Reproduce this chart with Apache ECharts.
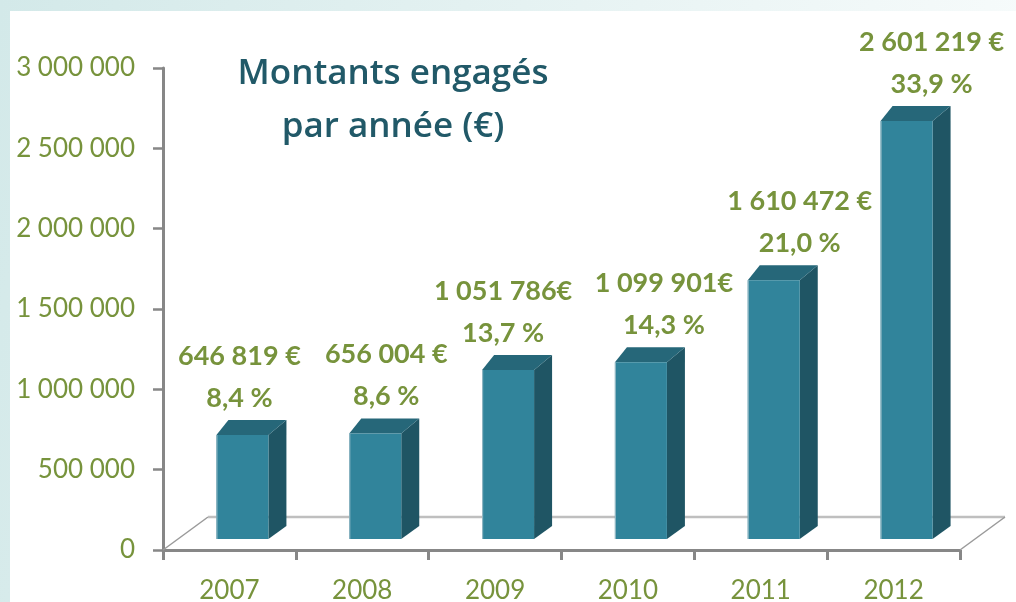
<!DOCTYPE html>
<html>
<head>
<meta charset="utf-8">
<script src="https://cdn.jsdelivr.net/npm/echarts@6/dist/echarts.min.js"></script>
<style>html,body{margin:0;padding:0;background:#fff;}#chart{width:1016px;height:602px;}</style>
</head>
<body>
<div id="chart"></div>
<script>
// ---- data ----
const years = ['2007', '2008', '2009', '2010', '2011', '2012'];
const amounts = [646819, 656004, 1051786, 1099901, 1610472, 2601219];
const amountLabels = ['646 819 €', '656 004 €', '1 051 786€', '1 099 901€', '1 610 472 €', '2 601 219 €'];
const shareLabels = ['8,4 %', '8,6 %', '13,7 %', '14,3 %', '21,0 %', '33,9 %'];
const yTickValues = [0, 500000, 1000000, 1500000, 2000000, 2500000, 3000000];

// ---- style ----
const GREEN = '#77933C';
const TITLE = '#215968';
const FRONT = '#31849B';
const SIDE = '#1F5564';
const TOP = '#266779';
const AXIS = '#878787';
const FRONT_DX = 13, FRONT_DY = -11, BAR_W = 52;
const SIDE_DX = 18, TOP_LDX = 12, TOP_DY = -15, BOT_DY = -13;
const FLOOR_DX = 45, FLOOR_DY = -33;
const LABEL_NUDGE = [-3, 11, -5, 23, 26, 25];

function fmtSpace(v) {
  return String(v).replace(/\B(?=(\d{3})+(?!\d))/g, ' ');
}

const chart = echarts.init(document.getElementById('chart'), null, {renderer: 'canvas'});

function renderItem(params, api) {
  const i = api.value(0);
  const v = api.value(1);
  const p0 = api.coord([i, 0]);
  const p1 = api.coord([i, v]);
  const cx = p0[0] + FRONT_DX;
  const L = cx - BAR_W / 2, R = cx + BAR_W / 2;
  const B = p0[1] + FRONT_DY, T = p1[1] + FRONT_DY;
  const children = [];
  if (params.dataIndex === 0) {
    const cs = params.coordSys;
    const x0 = cs.x, x1 = cs.x + cs.width, yb = cs.y + cs.height;
    children.push({type: 'polyline', shape: {points: [[x0, yb], [x0 + FLOOR_DX, yb + FLOOR_DY]]}, style: {stroke: '#9A9A9A', lineWidth: 1.5, fill: null}, z2: 0});
    children.push({type: 'polyline', shape: {points: [[x0 + FLOOR_DX, yb + FLOOR_DY], [x1 + FLOOR_DX, yb + FLOOR_DY]]}, style: {stroke: '#BFBFBF', lineWidth: 2.5, fill: null}, z2: 0});
    children.push({type: 'polyline', shape: {points: [[x1, yb], [x1 + FLOOR_DX, yb + FLOOR_DY]]}, style: {stroke: '#9A9A9A', lineWidth: 1.5, fill: null}, z2: 0});
  }
  children.push({type: 'polygon', shape: {points: [[R, T], [R + SIDE_DX, T + TOP_DY], [R + SIDE_DX, B + BOT_DY], [R, B]]}, style: {fill: SIDE}, z2: 5});
  children.push({type: 'polygon', shape: {points: [[L, T], [R, T], [R + SIDE_DX, T + TOP_DY], [L + TOP_LDX, T + TOP_DY]]}, style: {fill: TOP}, z2: 5});
  children.push({type: 'rect', shape: {x: L, y: T, width: BAR_W, height: B - T}, style: {fill: FRONT}, z2: 6});
  children.push({type: 'line', shape: {x1: L + 0.5, y1: T, x2: L + 0.5, y2: B}, style: {stroke: '#8DB5C2', lineWidth: 1.2}, z2: 7});
  const lx = cx + LABEL_NUDGE[i];
  children.push({type: 'text', x: lx, y: T - 79, style: {text: amountLabels[i], fill: GREEN, font: 'bold 27px Lato', align: 'center', verticalAlign: 'middle'}, z2: 10});
  children.push({type: 'text', x: lx, y: T - 37, style: {text: shareLabels[i], fill: GREEN, font: 'bold 27px Lato', align: 'center', verticalAlign: 'middle'}, z2: 10});
  return {type: 'group', children: children};
}

const option = {
  animation: false,
  backgroundColor: '#ffffff',
  graphic: [
    {type: 'rect', z: -2, shape: {x: 0, y: 0, width: 1016, height: 602},
      style: {fill: {type: 'linear', x: 0, y: 0, x2: 1, y2: 0.3, colorStops: [{offset: 0, color: '#D3E9E9'}, {offset: 1, color: '#F7FBFB'}]}}},
    {type: 'rect', z: -1, shape: {x: 10, y: 11, width: 1006, height: 591}, style: {fill: '#ffffff'}}
  ],
  title: {
    text: 'Montants engagés\npar année (€)',
    left: 388, top: 43, textAlign: 'center',
    textStyle: {fontFamily: 'Open Sans', fontSize: 35, fontWeight: 600, color: TITLE, lineHeight: 53}
  },
  grid: {left: 163, right: 56, top: 68, bottom: 52, containLabel: false, outerBoundsMode: 'none'},
  xAxis: {
    type: 'category', data: years,
    axisLine: {show: true, lineStyle: {color: AXIS, width: 3}},
    axisTick: {show: true, length: 10, lineStyle: {color: AXIS, width: 3}, alignWithLabel: false},
    axisLabel: {color: GREEN, fontFamily: 'Lato', fontSize: 26, margin: 28},
    splitLine: {show: false}
  },
  yAxis: {
    type: 'value', min: 0, max: 3000000, interval: 500000,
    axisLine: {show: true, lineStyle: {color: AXIS, width: 3}},
    axisTick: {show: true, length: 10, lineStyle: {color: AXIS, width: 2.5}},
    axisLabel: {color: GREEN, fontFamily: 'Lato', fontSize: 26, margin: 28,
      formatter: function (v) { return yTickValues.indexOf(v) >= 0 ? fmtSpace(v) : ''; }},
    splitLine: {show: false}
  },
  series: [{
    type: 'custom',
    renderItem: renderItem,
    data: amounts.map(function (v, i) { return [i, v]; }),
    clip: false,
    z: 3
  }]
};
chart.setOption(option);
</script>
</body>
</html>
